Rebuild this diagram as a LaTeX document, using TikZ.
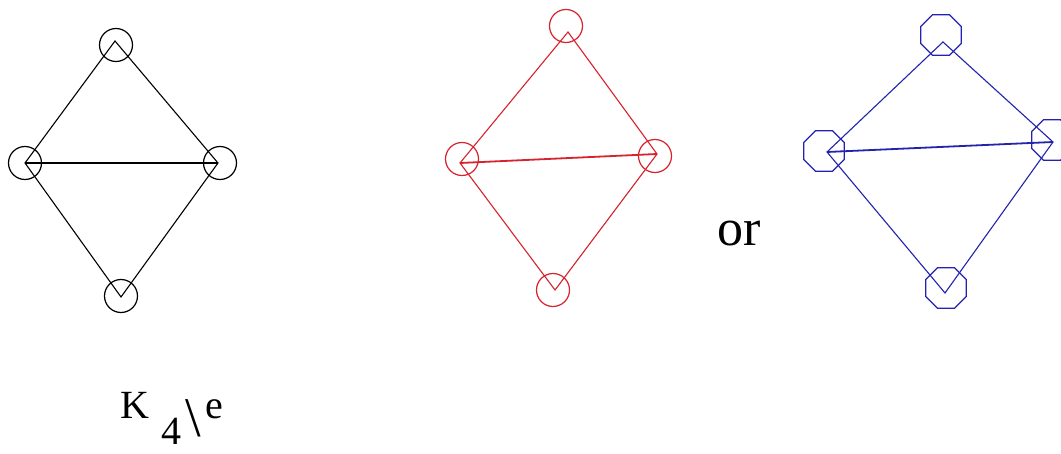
\documentclass[tikz,border=0pt]{standalone}
\usepackage{fontspec}
\setmainfont{Liberation Serif}
\usetikzlibrary{shapes.geometric}
\definecolor{kred}{RGB}{215,35,45}
\definecolor{kblue}{RGB}{35,35,175}
\begin{document}
\begin{tikzpicture}[x=1pt,y=-1pt,
  vtx/.style={draw,circle,minimum size=33pt,inner sep=0pt,line width=1.2pt},
  octv/.style={draw,regular polygon,regular polygon sides=8,minimum size=44pt,inner sep=0pt,line width=1.2pt},
  edge/.style={line width=1.1pt},
  midedge/.style={line width=1.8pt},
  lbl/.style={inner sep=0pt,anchor=base west}]
\useasboundingbox (0,0) rectangle (1061,454);
\fill[white] (0,0) rectangle (1061,454);
\begin{scope}
\clip (0,0) rectangle (1061,454);
% black graph
\node[vtx] (B1) at (116,45) {};
\node[vtx] (B2) at (25,163) {};
\node[vtx] (B3) at (220,163) {};
\node[vtx] (B4) at (121,296) {};
\coordinate (bt) at (115,41);
\coordinate (bl) at (25,163);
\coordinate (br) at (218,163);
\coordinate (bb) at (121,297);
\draw[edge] (bt) -- (bl) -- (bb) -- (br) -- cycle;
\draw[midedge] (bl) -- (br);
% red graph
\begin{scope}[kred]
\node[vtx] (R1) at (566,26) {};
\node[vtx] (R2) at (462,159) {};
\node[vtx] (R3) at (655,156) {};
\node[vtx] (R4) at (553,290) {};
\coordinate (rt) at (568,32);
\coordinate (rl) at (460,163);
\coordinate (rr) at (657,154);
\coordinate (rb) at (555,290);
\draw[edge] (rt) -- (rl) -- (rb) -- (rr) -- cycle;
\draw[midedge] (rl) -- (rr);
\end{scope}
% blue graph
\begin{scope}[kblue]
\node[octv] (U1) at (941,35) {};
\node[octv] (U2) at (824,151) {};
\node[octv] (U3) at (1052,140) {};
\node[octv] (U4) at (946,288) {};
\coordinate (ut) at (943,42);
\coordinate (ul) at (827,152);
\coordinate (ur) at (1053,142);
\coordinate (ub) at (945,293);
\draw[edge] (ut) -- (ul) -- (ub) -- (ur) -- cycle;
\draw[midedge] (ul) -- (ur);
\end{scope}
\end{scope}
% texts
\node[lbl,font=\fontsize{52}{60}\selectfont] (or) at (717,246) {or};
\node[lbl,font=\fontsize{40}{48}\selectfont] (K) at (120,419) {K};
\node[lbl,font=\fontsize{40}{48}\selectfont] (four) at (161,444) {4};
\node[lbl,font=\fontsize{56}{60}\selectfont] (bs) at (185,436) {\textbackslash};
\node[lbl,font=\fontsize{40}{48}\selectfont] (e) at (205,419) {e};
\end{tikzpicture}
\end{document}
